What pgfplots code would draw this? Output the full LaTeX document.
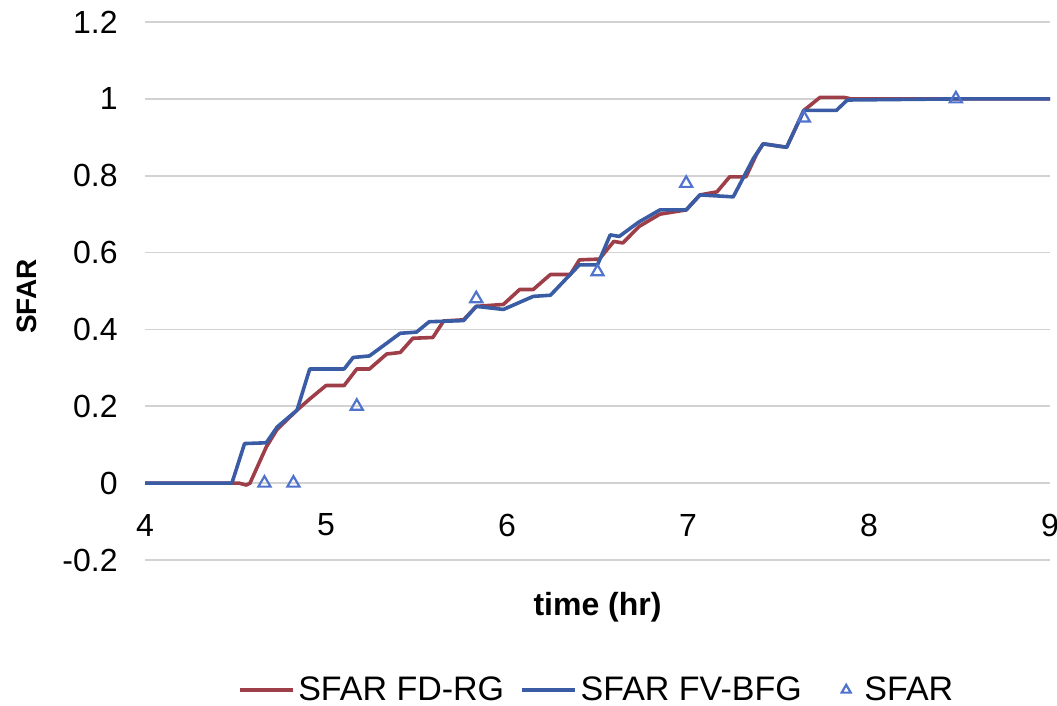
\documentclass[border=0pt]{standalone}
\usepackage{fontspec}
\setmainfont{Liberation Sans}
\usepackage{pgfplots}
\pgfplotsset{compat=1.18}
\definecolor{cred}{RGB}{158,62,72}
\definecolor{cblue}{RGB}{58,92,165}
\definecolor{ctri}{RGB}{80,115,205}
\begin{document}
\begin{tikzpicture}
\begin{axis}[
  scale only axis,
  width=452.5pt, height=269pt,
  xmin=4, xmax=9, ymin=-0.2, ymax=1.2,
  axis line style={draw=none},
  major tick length=0pt,
  xtick={4,5,6,7,8,9},
  xticklabels={4,5,6,7,8,9},
  ytick={-0.2,0,0.2,0.4,0.6,0.8,1,1.2},
  yticklabels={-0.2,0,0.2,0.4,0.6,0.8,1,1.2},
  ymajorgrids,
  grid style={gray!35, line width=0.8pt},
  tick label style={font=\fontsize{16}{18}\selectfont},
  xticklabel style={anchor=center, yshift=17.5pt},
  yticklabel style={anchor=east, inner sep=0pt, xshift=-13.5pt},
  xlabel={\textbf{time (hr)}},
  xlabel style={at={(axis description cs:0.5,0)}, anchor=center, yshift=-23.5pt, font=\fontsize{16}{18}\selectfont},
  ylabel={\textbf{SFAR}},
  ylabel style={at={(axis description cs:-0.13,0.49)}, anchor=center, font=\fontsize{14}{16}\selectfont},
  legend columns=-1,
  legend style={at={(axis description cs:0.5,0)}, anchor=center, yshift=-65pt, draw=none,
    font=\fontsize{17}{19}\selectfont, /tikz/every even column/.append style={column sep=6pt}},
  legend image code/.code={\draw[#1] (0cm,0cm) -- (0.93cm,0cm);},
]
\addplot[cred, line width=1.8pt, line join=round] coordinates {
(4,0) (4.52,0) (4.56,-0.005) (4.58,0) (4.67,0.094) (4.73,0.14) (4.84,0.19) (4.91,0.219)
(5.00,0.254) (5.10,0.254) (5.17,0.297) (5.24,0.297) (5.335,0.336) (5.41,0.34) (5.48,0.377)
(5.59,0.379) (5.65,0.422) (5.76,0.425) (5.83,0.46) (5.98,0.465) (6.07,0.504) (6.145,0.504)
(6.24,0.543) (6.35,0.543) (6.40,0.581) (6.51,0.583) (6.59,0.629) (6.64,0.625) (6.73,0.668)
(6.845,0.70) (6.99,0.711) (7.066,0.75) (7.16,0.758) (7.23,0.797) (7.32,0.797) (7.38,0.857)
(7.415,0.883) (7.545,0.874) (7.64,0.97) (7.73,1.004) (7.86,1.004) (7.90,1.0) (9,1.0)
};
\addlegendentry{SFAR FD-RG}
\addplot[cblue, line width=1.8pt, line join=round] coordinates {
(4,0) (4.48,0) (4.55,0.103) (4.67,0.105) (4.73,0.146) (4.84,0.19) (4.91,0.297) (5.10,0.297)
(5.15,0.327) (5.24,0.331) (5.41,0.39) (5.50,0.393) (5.57,0.42) (5.76,0.423) (5.83,0.46)
(5.98,0.452) (6.145,0.486) (6.24,0.489) (6.40,0.568) (6.50,0.568) (6.57,0.646) (6.62,0.642)
(6.73,0.68) (6.845,0.711) (6.99,0.711) (7.066,0.75) (7.25,0.745) (7.36,0.844) (7.415,0.883)
(7.545,0.874) (7.64,0.97) (7.82,0.97) (7.88,0.997) (8.5,1.0) (9,1.0)
};
\addlegendentry{SFAR FV-BFG}
\addplot[only marks, mark=triangle, mark size=3.5pt, mark options={ctri, line width=1.1pt},
  legend image code/.code={\path[draw=none,fill=none] (0cm,0cm) -- (0.75cm,0cm);
    \draw[ctri, line width=1pt] plot[mark=triangle, mark size=2.6pt] coordinates {(0.5cm,0cm)};}] coordinates {
(4.66,0) (4.82,0) (5.17,0.2) (5.83,0.48) (6.50,0.55) (6.99,0.78) (7.64,0.95) (8.48,1.0)
};
\addlegendentry{SFAR}
\coordinate (ll) at (rel axis cs:0,0);
\coordinate (ur) at (rel axis cs:1,1);
\end{axis}
\pgfresetboundingbox
\path[use as bounding box] ([shift={(-72.5pt,-72.5pt)}]ll) rectangle ([shift={(3.5pt,11pt)}]ur);
\end{tikzpicture}
\end{document}
